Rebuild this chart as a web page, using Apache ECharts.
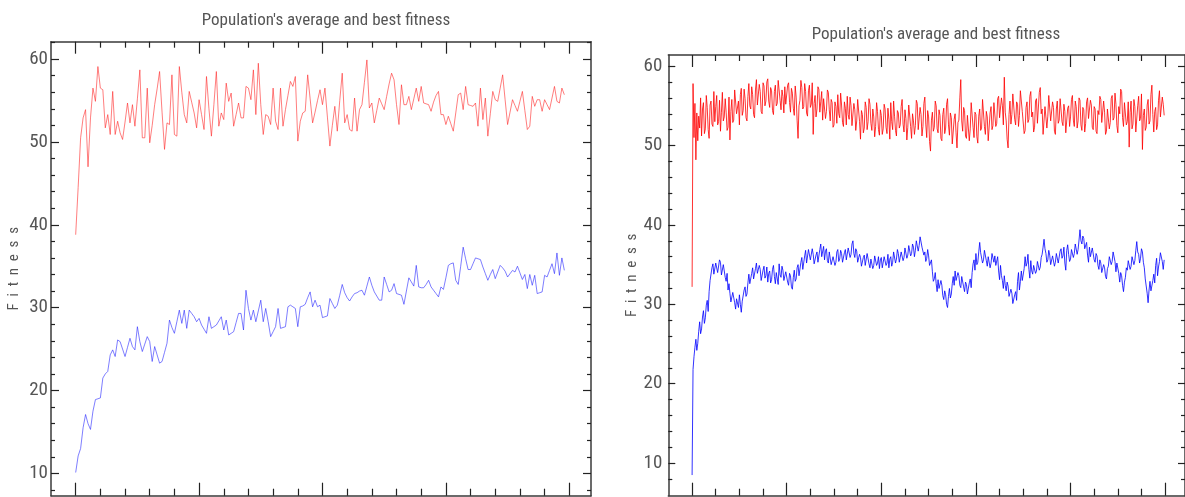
<!DOCTYPE html>
<html><head><meta charset="utf-8">
<script src="https://cdn.jsdelivr.net/npm/echarts@6/dist/echarts.min.js"></script>
<style>html,body{margin:0;padding:0;background:#fff}#c{width:1185px;height:497px}</style>
</head><body><div id="c"></div>
<script>
// ---- text ----
const titleText = "Population's average and best fitness";
const yName = 'Fitness';

// ---- left chart: one value per generation (0..198) ----
const leftBest = [
38.8,44.5,50.5,52.9,53.9,47.0,52.9,56.5,54.9,59.1,
56.5,56.3,51.7,53.3,50.9,56.1,50.9,52.5,51.1,50.3,
52.4,54.7,52.3,54.5,51.9,55.2,58.7,50.5,50.5,56.5,
49.9,52.0,54.5,56.4,58.5,53.6,49.1,52.3,52.1,58.1,
50.9,50.7,59.1,56.0,53.3,52.3,56.1,54.8,53.5,51.7,
55.1,53.3,51.5,57.9,54.0,50.7,54.5,58.5,51.9,53.5,
52.7,57.1,54.9,55.9,51.9,53.3,54.7,52.9,52.9,56.7,
56.5,55.1,58.7,53.3,59.5,54.5,50.9,53.3,53.1,52.1,
56.5,52.5,51.5,56.5,51.9,53.9,55.6,57.3,56.7,57.9,
50.1,52.5,53.5,53.7,58.1,55.2,52.3,53.6,55.0,56.3,
54.5,56.5,53.0,49.5,52.0,54.3,51.3,55.0,58.3,52.3,
53.3,51.5,51.3,55.3,51.3,53.9,54.5,57.2,59.9,54.1,
54.7,52.3,53.8,55.3,54.6,53.9,55.5,57.0,58.3,57.5,
54.5,52.1,56.9,54.5,54.5,55.5,53.9,55.2,56.5,54.9,
56.7,54.7,54.6,54.5,53.7,54.8,55.6,56.1,53.3,53.3,
52.1,53.1,52.2,51.3,53.5,55.7,55.9,53.9,56.7,54.5,
54.4,54.3,54.7,51.9,56.5,52.7,55.3,50.7,53.4,56.1,
55.1,54.9,56.5,58.1,55.1,52.1,53.6,55.1,54.4,53.7,
54.9,56.1,53.8,51.5,51.9,55.5,54.3,55.1,55.1,53.7,
55.1,54.5,53.9,55.3,56.7,54.9,54.7,56.5,55.7];
const leftAvg = [
10.1,12.1,13.0,15.5,17.1,16.0,15.3,17.5,18.9,19.0,
19.1,21.5,22.0,22.3,24.3,24.9,24.1,26.1,25.9,25.0,
24.1,25.2,26.3,25.3,24.9,27.7,25.9,24.7,25.6,26.5,
25.9,23.5,25.3,24.3,23.3,23.5,24.6,25.7,28.5,27.6,
26.9,28.3,29.7,28.1,29.7,27.5,29.7,29.3,28.9,28.3,
28.7,27.9,27.4,26.9,28.9,27.5,27.7,27.9,28.4,28.9,
27.3,28.5,26.7,26.9,27.1,28.2,29.3,29.3,27.3,32.1,
29.9,28.5,29.7,28.3,29.6,30.9,28.3,29.9,28.3,26.5,
27.1,27.7,29.9,27.5,27.6,27.7,30.1,30.3,30.1,29.9,
27.7,30.1,30.2,30.4,31.2,31.9,30.1,30.9,30.1,30.3,
28.8,28.9,29.0,31.1,30.5,29.9,30.3,31.5,32.8,31.8,
31.2,30.8,31.3,31.7,31.8,32.0,32.1,31.5,32.6,33.7,
32.7,31.9,31.4,30.9,30.9,33.7,32.8,31.9,32.1,32.9,
31.7,31.6,31.5,30.4,32.0,33.6,33.1,32.6,35.1,32.5,
32.4,32.4,32.8,33.3,32.5,32.1,31.7,31.3,32.5,32.2,
33.6,35.1,35.3,35.4,33.3,32.8,35.0,37.3,35.9,34.6,
34.6,35.3,36.0,35.9,35.8,34.9,34.1,33.3,34.0,34.6,
33.5,34.3,35.1,34.8,34.4,33.7,34.1,34.5,34.3,35.0,
34.2,33.4,34.0,32.3,34.0,32.7,33.9,31.7,31.8,31.9,
33.9,33.7,34.5,35.3,34.1,36.6,33.9,36.0,34.5];

// ---- right chart: one value every 2 generations (0..998) ----
const RIGHT_GEN_STEP = 2;
const rightBest = [
32.2,57.8,51.0,55.3,48.2,54.1,50.6,53.7,52.2,56.0,51.2,54.6,55.4,51.5,52.1,56.3,54.8,52.0,50.9,55.1,
55.6,52.7,52.4,56.8,53.0,54.9,56.3,52.6,53.0,55.7,51.8,54.2,56.7,53.1,53.6,55.9,54.2,51.9,52.3,56.1,
50.7,54.3,55.8,52.9,53.2,57.0,56.9,54.0,54.1,55.6,52.6,56.4,57.2,53.8,54.4,57.1,55.9,53.5,53.1,56.2,
57.8,55.0,54.6,57.4,56.4,53.9,53.5,57.0,58.3,55.1,55.2,57.7,56.8,54.3,54.0,57.9,57.5,55.0,55.6,58.0,
58.4,55.6,54.8,57.3,56.9,54.4,53.9,56.8,57.6,55.0,55.3,58.2,58.1,55.7,54.5,57.0,56.2,54.1,57.4,55.2,
55.0,57.6,57.9,55.4,54.2,57.2,56.6,54.7,53.8,57.5,56.1,53.2,50.9,55.0,55.7,58.2,57.3,54.6,54.9,57.8,
56.8,54.1,53.7,56.9,57.6,54.8,55.2,57.9,51.4,55.3,56.3,53.6,54.6,57.4,57.1,54.2,55.5,56.8,53.2,55.9,
55.9,53.4,54.3,57.0,56.7,54.5,53.1,55.8,55.4,52.3,52.6,55.5,54.9,52.8,56.4,54.0,53.5,56.6,55.1,52.9,
52.4,55.5,54.7,52.6,56.2,53.9,53.3,56.1,55.0,52.5,52.7,55.3,54.5,51.9,53.1,55.8,55.6,53.0,50.8,54.4,
53.9,51.6,52.2,55.5,54.8,52.0,53.0,55.9,55.2,52.8,51.9,54.6,53.6,51.1,52.4,55.4,54.3,52.0,51.3,54.5,
53.8,51.4,52.1,55.2,54.6,52.3,51.5,54.7,53.3,50.8,55.4,53.0,52.0,55.6,53.7,51.9,51.2,54.4,54.1,52.2,
52.6,54.9,55.8,52.7,51.7,54.5,53.4,50.7,52.3,55.1,54.9,52.4,50.9,54.0,53.1,51.4,52.5,55.7,55.3,52.0,
51.8,54.8,53.9,51.2,52.4,55.3,56.1,52.7,51.0,54.4,53.6,50.5,49.3,53.2,54.2,51.8,52.3,55.6,55.0,52.1,
51.6,54.5,53.8,50.9,50.6,53.9,54.7,51.5,52.2,55.2,55.9,52.6,51.3,54.1,53.5,50.2,50.4,53.3,54.0,51.6,
49.7,52.9,53.2,56.0,58.3,53.1,51.8,54.8,54.4,51.2,50.9,53.8,53.7,50.6,52.1,55.4,55.2,52.3,51.0,54.2,
53.9,51.1,50.3,53.7,54.6,51.9,52.2,55.8,55.7,52.4,51.4,54.3,53.6,50.6,50.8,54.1,54.9,52.0,52.5,55.4,
55.3,52.4,52.8,55.9,56.2,53.5,53.4,56.0,55.0,52.6,58.6,54.2,53.1,50.8,49.7,53.9,55.6,52.7,53.9,56.5,
56.7,53.3,52.6,55.5,55.2,52.4,53.8,56.9,57.0,54.3,54.1,51.5,51.9,54.8,55.5,52.9,53.3,56.2,56.8,53.6,
54.2,51.7,52.3,55.6,55.9,52.8,53.0,56.7,57.3,54.0,54.6,51.4,51.6,54.9,55.1,52.2,53.7,56.3,56.4,53.1,
52.9,55.5,54.8,51.8,51.4,54.6,55.6,52.8,53.2,55.9,56.1,53.0,52.5,55.2,54.3,51.6,51.8,54.7,55.0,52.4,
53.6,55.8,56.3,53.2,52.4,55.6,54.9,52.2,53.1,56.0,55.7,52.6,51.9,54.8,54.5,51.7,52.8,55.5,56.0,53.4,
53.3,55.7,55.1,52.3,52.0,54.9,54.6,51.8,51.5,54.4,53.9,56.2,55.8,52.9,52.7,55.6,54.2,51.4,51.8,54.6,
54.7,52.1,52.9,55.9,56.3,53.2,53.5,56.6,55.2,52.5,51.6,54.9,54.0,57.1,56.8,53.5,52.4,55.4,55.3,52.6,
53.0,55.5,49.8,54.2,55.6,52.1,52.7,55.8,54.9,51.7,51.9,55.0,56.2,53.1,53.4,56.5,49.5,53.8,54.6,51.9,
52.3,55.1,55.8,52.7,53.1,56.4,57.6,53.9,51.7,54.3,54.8,52.0,52.6,55.7,56.9,53.6,53.5,56.1,55.2,53.8];
const rightAvg = [
8.5,21.8,23.4,24.6,25.6,24.2,25.1,26.6,27.8,26.3,26.9,28.4,29.2,27.6,28.3,29.9,30.5,29.1,31.6,33.0,
33.2,34.6,35.1,33.8,33.6,35.2,35.4,34.0,34.1,35.6,35.3,33.7,33.9,35.0,34.8,33.4,32.9,33.9,31.8,32.6,
31.4,30.3,30.1,31.5,31.6,30.2,29.4,30.7,30.8,29.6,31.2,30.0,29.0,30.4,30.6,31.8,32.2,31.0,31.3,32.7,
33.8,32.6,32.4,33.9,34.6,33.2,33.1,34.5,35.2,33.9,33.7,34.9,34.4,33.0,32.9,34.3,34.8,33.3,33.6,34.7,
32.8,33.9,34.2,32.7,33.1,34.4,34.9,33.5,32.6,34.0,33.8,32.5,35.1,33.7,33.4,34.8,34.3,33.0,32.9,34.1,
34.1,32.8,32.4,33.9,33.6,32.2,31.9,33.4,34.3,32.9,33.2,34.6,35.0,33.6,33.8,35.3,35.9,34.4,34.6,36.1,
36.8,35.2,35.4,36.9,37.1,35.6,35.8,37.0,36.3,35.1,34.9,36.2,36.6,35.3,35.5,36.9,37.6,36.0,36.2,37.3,
35.6,36.7,37.0,35.5,35.2,36.6,36.4,35.0,34.8,36.0,36.1,34.9,35.3,36.6,36.9,35.4,35.7,36.8,36.4,35.3,
35.2,36.5,36.9,35.6,35.8,37.1,37.2,35.9,36.3,37.6,38.0,36.4,35.9,37.0,36.7,35.3,35.1,36.3,35.9,34.8,
34.7,35.9,36.2,34.9,35.0,36.4,36.5,35.1,34.6,35.7,35.8,34.5,34.9,36.1,36.3,34.9,35.2,36.0,34.5,35.6,
35.9,34.6,34.8,36.0,36.1,34.9,35.2,36.3,34.6,35.7,36.0,34.8,35.3,36.6,36.5,35.2,35.7,36.9,36.4,35.3,
35.4,36.6,36.8,35.5,35.9,37.1,37.0,35.8,36.2,37.4,37.5,36.1,36.4,37.6,37.2,36.0,36.8,38.0,37.9,36.7,
37.4,38.5,38.6,37.2,37.3,36.2,36.6,35.4,35.8,36.9,36.1,34.9,34.7,35.6,34.1,32.9,33.2,34.0,32.6,31.6,
33.1,32.0,31.8,33.0,32.4,31.1,30.6,31.7,31.2,30.0,29.6,31.0,32.0,30.8,31.3,32.6,33.5,32.4,34.2,33.0,
32.9,34.0,33.6,32.4,32.1,33.5,33.4,32.2,31.6,32.8,32.5,31.3,31.4,32.7,33.2,32.1,34.0,35.1,35.6,34.3,
36.4,35.0,35.3,36.6,37.8,36.5,36.4,35.2,35.6,36.8,36.9,35.5,34.8,36.0,35.9,34.6,35.2,36.4,36.5,35.3,
36.1,34.9,35.1,36.0,34.2,33.1,34.9,33.6,33.0,32.0,33.6,32.4,31.7,32.8,32.3,31.0,30.8,31.9,31.4,30.1,
30.0,31.2,31.6,30.5,32.9,34.0,31.8,32.9,34.2,33.0,33.1,34.5,36.0,34.8,35.2,36.3,34.4,33.3,35.5,34.2,
33.8,34.9,35.0,33.9,34.2,35.4,35.6,34.3,34.7,35.9,36.3,37.2,38.2,37.0,36.4,35.3,35.6,36.8,36.2,35.0,
34.9,36.1,36.0,34.8,35.3,36.4,36.5,35.2,35.4,36.7,37.0,35.8,36.1,37.2,35.2,34.3,36.8,37.5,36.3,35.4,
35.7,36.9,37.1,35.9,36.4,37.6,37.5,36.3,36.9,38.1,39.4,38.0,37.6,38.6,38.3,37.0,36.8,37.8,36.2,35.3,
37.2,36.0,36.0,37.1,36.9,35.6,35.3,36.4,36.1,34.9,34.4,35.6,35.2,34.0,33.9,35.0,34.6,33.5,33.2,34.5,
34.8,36.0,36.2,35.0,35.4,36.6,36.7,35.4,34.1,35.2,35.2,33.9,32.8,34.0,33.6,32.4,31.6,32.8,33.4,34.6,
34.3,35.5,35.6,34.4,34.8,36.0,36.2,35.0,35.5,36.8,37.9,36.6,36.3,35.2,35.8,37.0,36.6,35.3,34.6,33.2,
33.1,31.4,30.2,31.8,32.9,31.7,31.6,33.0,33.8,32.7,34.9,35.8,33.6,34.7,35.4,36.5,36.6,35.4,34.4,35.6];

// ---- tick values ----
const yMajorTicks = [10,20,30,40,50,60];
const leftYMinorTicks = [8,12,14,16,18,22,24,26,28,32,34,36,38,42,44,46,48,52,54,56,58,62];
const rightYMinorTicks = [8,12,14,16,18,22,24,26,28,32,34,36,38,42,44,46,48,52,54,56,58];
const leftXMajorTicks = [0,50,100,150,200];
const leftXMinorTicks = [10,20,30,40,60,70,80,90,110,120,130,140,160,170,180,190];
const rightXMajorTicks = [0,200,400,600,800,1000];
const rightXMinorTicks = [50,100,150,250,300,350,450,500,550,650,700,750,850,900,950];

const FONT = '"Roboto Condensed", "DejaVu Sans Condensed", sans-serif';
const TEXT = '#555';
const FRAME = '#3a3a3a';
const TICK = '#222';

const leftSeriesBest = leftBest.map((v, i) => [i, v]);
const leftSeriesAvg = leftAvg.map((v, i) => [i, v]);
const rightSeriesBest = rightBest.map((v, i) => [i * RIGHT_GEN_STEP, v]);
const rightSeriesAvg = rightAvg.map((v, i) => [i * RIGHT_GEN_STEP, v]);

function tickAxis(grid, position, min, max, values, len, showLine, label) {
  const ax = {
    type: 'value', gridIndex: grid, position: position, min: min, max: max,
    axisLine: { show: showLine, onZero: false, lineStyle: { color: FRAME, width: 1.5 } },
    axisTick: { show: true, inside: true, length: len, customValues: values, lineStyle: { color: TICK, width: 1.2 } },
    axisLabel: { show: false },
    splitLine: { show: false }, minorTick: { show: false }, minorSplitLine: { show: false }
  };
  if (label) {
    ax.axisLabel = { show: true, customValues: values, color: TEXT, fontSize: 19, fontFamily: FONT, margin: label.margin };
    ax.name = yName.split('').join('\u2002');
    ax.nameLocation = 'middle';
    ax.nameGap = label.nameGap;
    ax.nameTextStyle = { color: TEXT, fontSize: 15, fontFamily: FONT };
  }
  return ax;
}

const xAxes = [
  tickAxis(0, 'bottom', -10, 208.8, leftXMajorTicks, 13, true),
  tickAxis(0, 'bottom', -10, 208.8, leftXMinorTicks, 7, false),
  tickAxis(0, 'top', -10, 208.8, leftXMajorTicks, 12, true),
  tickAxis(0, 'top', -10, 208.8, leftXMinorTicks, 6, false),
  tickAxis(1, 'bottom', -50.3, 1042, rightXMajorTicks, 13, true),
  tickAxis(1, 'bottom', -50.3, 1042, rightXMinorTicks, 7, false),
  tickAxis(1, 'top', -50.3, 1042, rightXMajorTicks, 12, true),
  tickAxis(1, 'top', -50.3, 1042, rightXMinorTicks, 6, false)
];
const yAxes = [
  tickAxis(0, 'left', 7.3, 62.1, yMajorTicks, 8, true, { margin: 3, nameGap: 29 }),
  tickAxis(0, 'left', 7.3, 62.1, leftYMinorTicks, 4, false),
  tickAxis(0, 'right', 7.3, 62.1, yMajorTicks, 8, true),
  tickAxis(0, 'right', 7.3, 62.1, leftYMinorTicks, 4, false),
  tickAxis(1, 'left', 5.9, 61.4, yMajorTicks, 7, true, { margin: 6, nameGap: 28 }),
  tickAxis(1, 'left', 5.9, 61.4, rightYMinorTicks, 4, false),
  tickAxis(1, 'right', 5.9, 61.4, yMajorTicks, 7, true),
  tickAxis(1, 'right', 5.9, 61.4, rightYMinorTicks, 4, false)
];

function lineSeries(name, data, xi, yi, color, width) {
  return { name: name, type: 'line', data: data, xAxisIndex: xi, yAxisIndex: yi,
    showSymbol: false, symbol: 'none', silent: true,
    lineStyle: { color: color, width: width }, z: 3 };
}

const chart = echarts.init(document.getElementById('c'), null, { renderer: 'canvas' });
chart.setOption({
  animation: false,
  backgroundColor: '#fff',
  title: [
    { text: titleText, left: 321, top: 7, textAlign: 'center',
      textStyle: { color: TEXT, fontSize: 17, fontWeight: 'normal', fontFamily: FONT } },
    { text: titleText, left: 931, top: 21, textAlign: 'center',
      textStyle: { color: TEXT, fontSize: 17, fontWeight: 'normal', fontFamily: FONT } }
  ],
  grid: [
    { left: 51, top: 41.7, width: 540, height: 454, containLabel: false, show: false },
    { left: 668.3, top: 55, width: 522, height: 440.7, containLabel: false, show: false }
  ],
  xAxis: xAxes,
  yAxis: yAxes,
  series: [
    lineSeries('Best (left)', leftSeriesBest, 0, 0, 'rgba(255,40,40,0.6)', 1),
    lineSeries('Average (left)', leftSeriesAvg, 0, 0, 'rgba(40,40,255,0.6)', 1),
    lineSeries('Best (right)', rightSeriesBest, 4, 4, 'rgba(255,0,0,0.8)', 1),
    lineSeries('Average (right)', rightSeriesAvg, 4, 4, 'rgba(0,0,255,0.8)', 1)
  ]
});
</script>
</body></html>
